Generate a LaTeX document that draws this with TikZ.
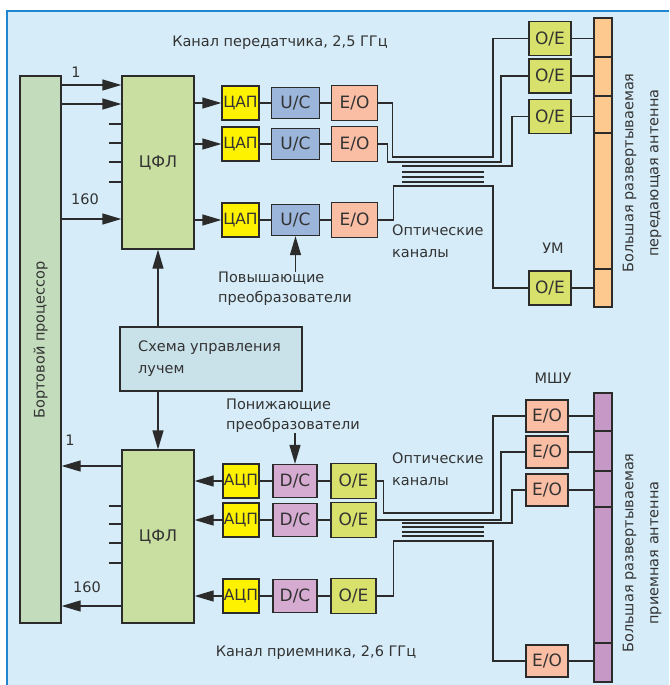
\documentclass[tikz,border=0pt]{standalone}
\usepackage{fontspec}
\setmainfont{DejaVu Sans}
\usetikzlibrary{arrows.meta}

\definecolor{bgblue}{HTML}{D6EDF9}
\definecolor{frameblue}{HTML}{1F86CF}
\definecolor{procgreen}{HTML}{C2DCBC}
\definecolor{cflgreen}{HTML}{C9DFA1}
\definecolor{dacyellow}{HTML}{FFF200}
\definecolor{ucblue}{HTML}{9CB5DB}
\definecolor{eosalmon}{HTML}{F9BEA4}
\definecolor{oegreen}{HTML}{D7E16B}
\definecolor{dcpink}{HTML}{D5ABD2}
\definecolor{txant}{HTML}{FDC98F}
\definecolor{rxant}{HTML}{C698C5}
\definecolor{ctrlgray}{HTML}{C9E1E9}
\definecolor{linegray}{HTML}{2B2B2B}
\definecolor{textgray}{HTML}{333333}

\tikzset{
  ln/.style={draw=linegray, line width=1.3pt},
  arr/.style={ln, -{Triangle[length=19pt,width=11pt]}},
  blk/.style={draw=linegray, line width=1.3pt, inner sep=0pt, text=textgray,
    font=\fontsize{17}{17}\selectfont},
  adcblk/.style={blk, fill=dacyellow, font=\fontsize{15.5}{15.5}\selectfont},
  cflblk/.style={blk, fill=cflgreen, minimum width=72pt, minimum height=173pt,
    font=\fontsize{16}{16}\selectfont},
  txt/.style={inner sep=0pt, text=textgray, font=\fontsize{14.5}{20}\selectfont},
  widetxt/.style={txt, font=\fontsize{14.5}{22}\selectfont},
  anttxt/.style={txt, rotate=90, align=center, font=\fontsize{14.5}{25}\selectfont},
}

\begin{document}
\begin{tikzpicture}[x=1pt,y=-1pt]
\useasboundingbox (0,0) rectangle (669,685);
\fill[bgblue] (7,11) rectangle (669,685);
\draw[frameblue, line width=1.6pt] (7,685) -- (7,11) -- (669,11);

% processor, beam control, DFL
\node[blk, fill=procgreen, minimum width=41pt, minimum height=547pt] (proc) at (40.5,349.5) {};
\node[txt, rotate=90] (proctxt) at (40.5,340) {Бортовой процессор};
\node[cflblk] (cflup) at (158,162.5) {ЦФЛ};
\node[cflblk] (cfldn) at (158,536.5) {ЦФЛ};
\node[blk, fill=ctrlgray, minimum width=182pt, minimum height=64pt] (ctrl) at (211,359) {};
\node[widetxt, anchor=west, align=left] (ctrltxt) at (138,359) {Схема управления\\лучем};

\draw[arr] (ctrl.north -| cflup) -- (cflup.south);
\draw[arr] (ctrl.south -| cfldn) -- (cfldn.north);

% transmit channel
\foreach \y in {85,104,219} \draw[arr] (proc.east |- 0,\y) -- (cflup.west |- 0,\y);
\foreach \y in {124,143,162,182} \draw[ln] (cflup.west |- 0,\y) -- ++(-12,0);
\node[txt] (n1up) at (76,72) {1};
\node[txt] (n160up) at (85,199) {160};

\foreach \i/\y in {1/103,2/144,3/220} {
  \node[adcblk, minimum width=37pt, minimum height=34pt] (dac\i) at (240.5,\y) {ЦАП};
  \node[blk, fill=ucblue, minimum width=48pt, minimum height=31pt] (uc\i) at (295.5,\y) {U/C};
  \node[blk, fill=eosalmon, minimum width=46pt, minimum height=35pt] (eo\i) at (354.5,\y) {E/O};
  \draw[arr] (cflup.east |- dac\i) -- (dac\i.west);
  \draw[ln] (dac\i) -- (uc\i) (uc\i) -- (eo\i);
}

\node[blk, fill=txant, minimum width=18pt, minimum height=289pt] (antup) at (603,162.5) {};
\foreach \y in {57,96,133,269} \draw[ln] (antup.west |- 0,\y) -- (antup.east |- 0,\y);
\foreach \i/\y in {1/38.5,2/76,3/116.5,4/288} {
  \node[blk, fill=oegreen, minimum width=42pt, minimum height=34pt] (oe\i) at (550,\y) {O/E};
  \draw[ln] (oe\i) -- (oe\i -| antup.west);
}

% optical channels, transmit
\draw[ln] (eo1.east) -- ++(14,0) |- (493,157) |- (oe1.west);
\draw[ln] (eo2.east) -- ++(9,0) |- (501,162) |- (oe2.west);
\coordinate (fibup) at (402,166);
\draw[ln] (fibup) -- (512,166) |- (oe3.west);
\foreach \y in {172,177,182} \draw[ln] (402,\y) -- (484,\y);
\draw[ln] (eo3.east) -- ++(15,0) |- (493,186) |- (oe4.west);

\node[txt] (txtitle) at (280,43) {Канал передатчика, 2,5 ГГц};
\node[txt, anchor=north west, align=left] (upconv) at (218,272) {Повышающие\\преобразователи};
\draw[arr] (upconv.north -| uc3) -- (uc3.south);
\node[widetxt, anchor=west, align=left] (optup) at (392,241) {Оптические\\каналы};
\node[txt] (um) at (553,248) {УМ};
\node[anttxt] (antuptxt) at (642,173) {Большая развертываемая\\передающая антенна};

% receive channel
\foreach \y in {466,606} \draw[arr] (cfldn.west |- 0,\y) -- (proc.east |- 0,\y);
\foreach \y in {506,524,543,563} \draw[ln] (cfldn.west |- 0,\y) -- ++(-12,0);
\node[txt] (n1dn) at (70,440) {1};
\node[txt] (n160dn) at (87,587) {160};

\foreach \i/\y in {1/481,2/520,3/596} {
  \node[adcblk, minimum width=36pt, minimum height=34pt] (adc\i) at (241,\y) {АЦП};
  \node[blk, fill=dcpink, minimum width=44pt, minimum height=33pt] (dc\i) at (295,\y) {D/C};
  \node[blk, fill=oegreen, minimum width=45pt, minimum height=35pt] (oed\i) at (353.5,\y) {O/E};
  \draw[arr] (adc\i.west) -- (cfldn.east |- adc\i);
  \draw[ln] (adc\i) -- (dc\i) (dc\i) -- (oed\i);
}

\node[blk, fill=rxant, minimum width=18pt, minimum height=289pt] (antdn) at (603,537.5) {};
\foreach \y in {431,471,507,643} \draw[ln] (antdn.west |- 0,\y) -- (antdn.east |- 0,\y);
\foreach \i/\y in {1/416,2/452,3/490,4/661} {
  \node[blk, fill=eosalmon, minimum width=42pt, minimum height=32pt] (eor\i) at (547,\y) {E/O};
  \draw[ln] (eor\i) -- (eor\i -| antdn.west);
}

% optical channels, receive
\draw[ln] (oed1.east) -- ++(7,0) |- (493,513) |- (eor1.west);
\draw[ln] (oed2.east) -- (oed2.east -| 501,0) |- (eor2.west);
\coordinate (fibdn) at (402,523);
\draw[ln] (fibdn) -- (512,523) |- (eor3.west);
\foreach \y in {527,532,536} \draw[ln] (402,\y) -- (484,\y);
\draw[ln] (oed3.east) -- ++(17,0) |- (493,541) |- (eor4.west);

\node[txt] (rxtitle) at (316,653) {Канал приемника, 2,6 ГГц};
\node[txt, anchor=south west, align=left] (dnconv) at (226,433) {Понижающие\\преобразователи};
\draw[arr] (dnconv.south -| dc1) -- (dc1.north);
\node[widetxt, anchor=west, align=left] (optdn) at (392,469) {Оптические\\каналы};
\node[txt] (mshu) at (553,378) {МШУ};
\node[anttxt] (antdntxt) at (642,553) {Большая развертываемая\\приемная антенна};

\end{tikzpicture}
\end{document}
